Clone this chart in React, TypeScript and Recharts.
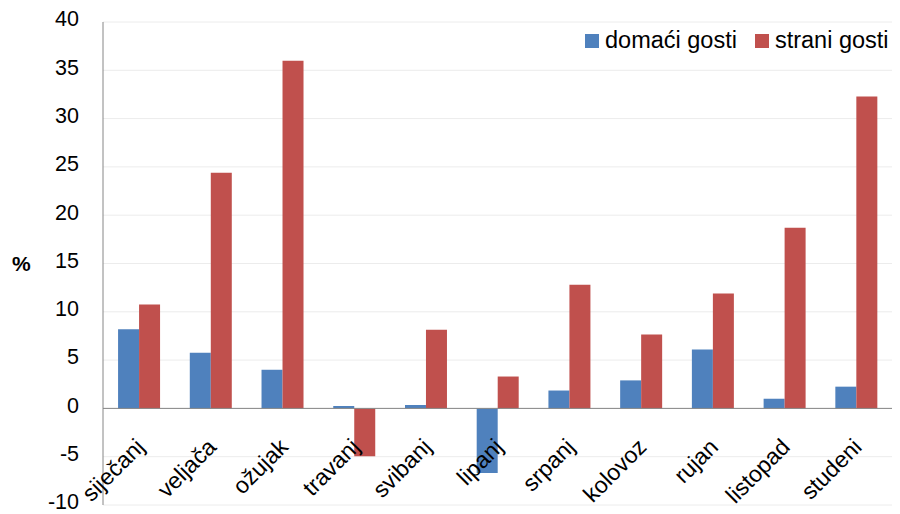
import { BarChart, Bar, XAxis, YAxis, CartesianGrid, ReferenceLine } from 'recharts';

const months = ['siječanj', 'veljača', 'ožujak', 'travanj', 'svibanj', 'lipanj', 'srpanj', 'kolovoz', 'rujan', 'listopad', 'studeni'];
const domaci = [8.2, 5.75, 4.0, 0.25, 0.35, -6.7, 1.85, 2.9, 6.1, 1.0, 2.25];
const strani = [10.75, 24.4, 36.0, -4.95, 8.15, 3.3, 12.8, 7.65, 11.9, 18.7, 32.3];
const yTicks = [-10, -5, 0, 5, 10, 15, 20, 25, 30, 35, 40];

const W = 900;
const H = 514;
const margin = { top: 22, right: 8, bottom: 8, left: 0 };
const xAxisH = 1;
const yMin = -10;
const yMax = 40;
const font = '"Liberation Sans", Arial, sans-serif';

const data = months.map((m, i) => ({ month: m, domaci: domaci[i], strani: strani[i] }));

// Excel puts the category labels next to the zero line, not at the bottom
function MonthTick({ x, y, payload }: any) {
    const plotH = H - margin.top - margin.bottom - xAxisH;
    const zeroY = y - plotH * (0 - yMin) / (yMax - yMin);
    const px = x + 7;
    const py = zeroY + 40;
    return (
        <text x={px} y={py} transform={`rotate(-45 ${px} ${py})`} textAnchor="end"
            fontSize={23} fontFamily={font} fill="#000">
            {payload.value}
        </text>
    );
}

function ValueTick({ x, y, payload }: any) {
    return (
        <text x={x} y={y} dy="0.2em" textAnchor="end" fontSize={21.5} fontFamily={font} fill="#000">
            {payload.value}
        </text>
    );
}

function LegendBox() {
    const items = [
        { label: 'domaći gosti', color: '#4F81BD' },
        { label: 'strani gosti', color: '#C0504D' },
    ];
    return (
        <div style={{ position: 'absolute', left: 585, top: 27, display: 'flex', alignItems: 'center', whiteSpace: 'nowrap', fontFamily: font, fontSize: 23.5 }}>
            {items.map((it) => (
                <div key={it.label} style={{ display: 'flex', alignItems: 'center', marginRight: 18 }}>
                    <span style={{ width: 14, height: 14, background: it.color, marginRight: 6, display: 'inline-block', flex: 'none' }} />
                    <span style={{ color: '#000' }}>{it.label}</span>
                </div>
            ))}
        </div>
    );
}

export default function App() {
    return (
        <div style={{ position: 'absolute', left: 0, top: 0, width: W, height: H, background: '#fff' }}>
            <BarChart width={W} height={H} data={data} margin={margin} barCategoryGap="21%" barGap={0}>
                <CartesianGrid vertical={false} stroke="#ececec" />
                <XAxis dataKey="month" height={xAxisH} axisLine={false} tickLine={false} tickSize={0} tickMargin={0}
                    tick={MonthTick} interval={0} />
                <YAxis domain={[yMin, yMax]} ticks={yTicks} interval={0} width={103} tickLine={false} tickSize={0} tickMargin={24}
                    axisLine={{ stroke: '#868686' }} tick={ValueTick}
                    label={{ value: '%', position: 'insideLeft', offset: 12, fontSize: 21, fontWeight: 'bold', fontFamily: font, fill: '#000' }} />
                <ReferenceLine y={0} stroke="#868686" />
                <Bar dataKey="domaci" name="domaći gosti" fill="#4F81BD" isAnimationActive={false} />
                <Bar dataKey="strani" name="strani gosti" fill="#C0504D" isAnimationActive={false} />
            </BarChart>
            <LegendBox />
        </div>
    );
}
